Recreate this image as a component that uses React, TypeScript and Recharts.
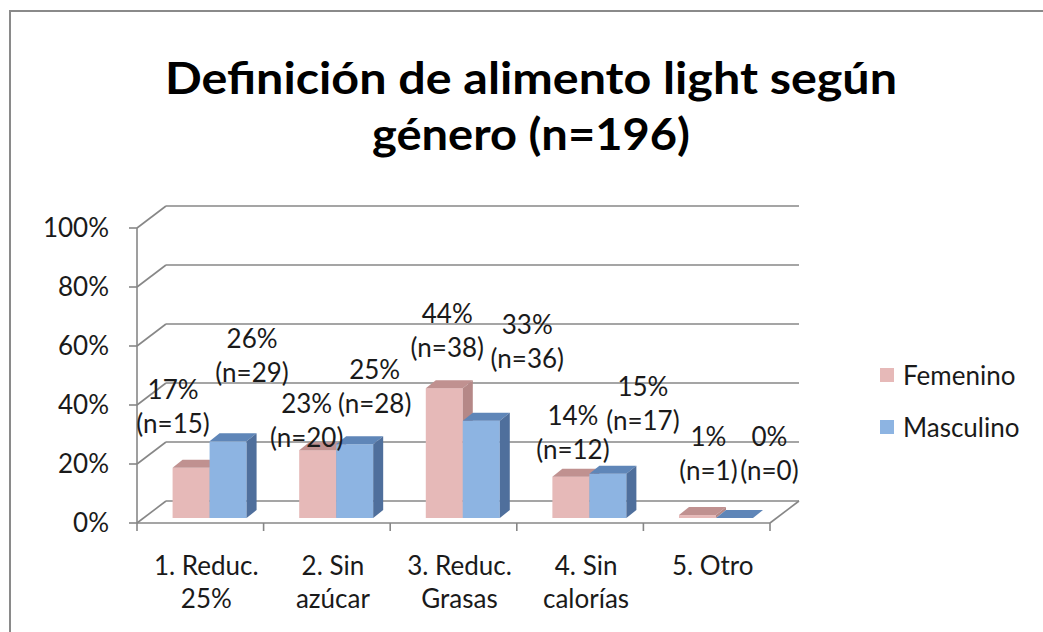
import React from 'react';
import {
  BarChart,
  Bar,
  XAxis,
  YAxis,
  CartesianGrid,
  Legend,
  LabelList,
  ReferenceLine,
} from 'recharts';

const categories = ['1. Reduc.\n25%', '2. Sin\nazúcar', '3. Reduc.\nGrasas', '4. Sin\ncalorías', '5. Otro'];
const femeninoPct = [17, 23, 44, 14, 1];
const femeninoN = [15, 20, 38, 12, 1];
const masculinoPct = [26, 25, 33, 15, 0];
const masculinoN = [29, 28, 36, 17, 0];
const yTicks = [0, 20, 40, 60, 80, 100];

const data = categories.map((name, i) => ({
  name,
  fem: femeninoPct[i],
  femN: femeninoN[i],
  mas: masculinoPct[i],
  masN: masculinoN[i],
}));

// label nudges (Excel placed these by hand), relative to the top centre of each bar
const femLabelNudge = [[-18, -45], [-11, -13], [3, -41], [2, -28], [11, -45]];
const masLabelNudge = [[24, -69], [20, -41], [46, -63], [35, -54], [35, -48]];

const FONT = 'Lato, "Open Sans", sans-serif';
const TEXT = '#1a1a1a';
const GRID = '#878787';

// fake 3D: back wall offset, plane the bars stand on, and bar depth
const WALL = { dx: 29, dy: -22 };
const PLANE = { dx: 9, dy: -5 };
const DEPTH = { dx: 10, dy: -8 };

const pink = { face: '#E6B9B8', top: '#C09190', side: '#B58887' };
const blue = { face: '#8DB4E2', top: '#5F86B8', side: '#4F6F9C' };

function Bar3D(props: any) {
  const { x, y, width, height, colors } = props;
  if (x == null || y == null) return null;
  const x0 = x + PLANE.dx;
  const y0 = y + PLANE.dy;
  const h = Math.max(0, height || 0);
  const w = width;
  return (
    <g>
      <rect x={x0} y={y0} width={w} height={h} fill={colors.face} />
      <polygon
        points={`${x0},${y0} ${x0 + w},${y0} ${x0 + w + DEPTH.dx},${y0 + DEPTH.dy} ${x0 + DEPTH.dx},${y0 + DEPTH.dy}`}
        fill={colors.top}
      />
      <polygon
        points={`${x0 + w},${y0} ${x0 + w + DEPTH.dx},${y0 + DEPTH.dy} ${x0 + w + DEPTH.dx},${y0 + h + DEPTH.dy} ${x0 + w},${y0 + h}`}
        fill={colors.side}
      />
    </g>
  );
}

function WallLine(props: any) {
  const { x1, x2, y1, key } = props;
  const bx = x1 + WALL.dx;
  const by = y1 + WALL.dy;
  return (
    <g key={key}>
      <line x1={x1} y1={y1} x2={bx} y2={by} stroke={GRID} strokeWidth={1.6} />
      <line x1={bx} y1={by} x2={x2 + WALL.dx} y2={by} stroke={GRID} strokeWidth={1.6} />
    </g>
  );
}

function FloorFront(props: any) {
  const { x1, x2, y1 } = props;
  return (
    <g>
      <line x1={x1} y1={y1} x2={x2} y2={y1} stroke={GRID} strokeWidth={1.6} />
      <line x1={x2} y1={y1} x2={x2 + WALL.dx} y2={y1 + WALL.dy} stroke={GRID} strokeWidth={1.6} />
    </g>
  );
}

function CategoryTick(props: any) {
  const { x, y, payload, index, visibleTicksCount, width } = props;
  const half = payload?.offset || (width && visibleTicksCount ? width / visibleTicksCount / 2 : 63.3);
  const lines = String(payload.value).split('\n');
  const isLast = index === (visibleTicksCount || 5) - 1;
  return (
    <g>
      <line x1={x - half} y1={y} x2={x - half} y2={y + 8} stroke={GRID} strokeWidth={1.6} />
      {isLast && <line x1={x + half} y1={y} x2={x + half} y2={y + 8} stroke={GRID} strokeWidth={1.6} />}
      {lines.map((t, i) => (
        <text
          key={i}
          x={x + 6}
          y={y + 42 + i * 33}
          textAnchor="middle"
          dominantBaseline="central"
          fill={TEXT}
          fontSize={26}
          fontFamily={FONT}
        >
          {t}
        </text>
      ))}
    </g>
  );
}

function makeLabel(nKey: 'femN' | 'masN', nudges: number[][]) {
  return (props: any) => {
    const { x, y, width, index, value } = props;
    const nd = nudges[index] || [0, -40];
    const cx = x + PLANE.dx + width / 2 + nd[0];
    const cy = y + PLANE.dy + nd[1];
    const n = data[index][nKey];
    return (
      <g>
        <text x={cx} y={cy - 34} textAnchor="middle" dominantBaseline="central" fill={TEXT} fontSize={26} fontFamily={FONT}>
          {`${value}%`}
        </text>
        <text x={cx} y={cy} textAnchor="middle" dominantBaseline="central" fill={TEXT} fontSize={26} fontFamily={FONT}>
          {`(n=${n})`}
        </text>
      </g>
    );
  };
}

function LegendBox(props: any) {
  const items = props.payload || [];
  return (
    <div style={{ fontFamily: FONT, fontSize: 26, color: TEXT }}>
      {items.map((it: any, i: number) => (
        <div key={i} style={{ display: 'flex', alignItems: 'center', height: 52 }}>
          <span style={{ width: 14, height: 14, background: it.color, marginRight: 9, display: 'inline-block' }} />
          <span>{it.value}</span>
        </div>
      ))}
    </div>
  );
}

export default function App() {
  return (
    <div style={{ position: 'absolute', left: 0, top: 0, width: 1043, height: 632, background: '#fff', overflow: 'hidden' }}>
      <div
        style={{
          position: 'absolute',
          left: 9,
          top: 10,
          width: 1100,
          height: 700,
          borderLeft: '2px solid #8a8a8a',
          borderTop: '2px solid #8a8a8a',
        }}
      />
      <svg width={1043} height={170} style={{ position: 'absolute', left: 0, top: 0 }}>
        <text x={531} y={94} textAnchor="middle" fontFamily={FONT} fontWeight={700} fontSize={44} fill="#000" textLength={732} lengthAdjust="spacingAndGlyphs">
          Definición de alimento light según
        </text>
        <text x={531} y={150} textAnchor="middle" fontFamily={FONT} fontWeight={700} fontSize={44} fill="#000" textLength={318} lengthAdjust="spacingAndGlyphs">
          género (n=196)
        </text>
      </svg>
      <div style={{ position: 'absolute', left: 0, top: 0 }}>
        <BarChart
          width={1043}
          height={632}
          data={data}
          margin={{ top: 228, right: 273, bottom: 79, left: 0 }}
          barCategoryGap="21%"
          barGap={0}
        >
          <CartesianGrid vertical={false} horizontal={(p: any) => <WallLine {...p} />} />
          <XAxis dataKey="name" height={30} axisLine={false} tickLine={false} tickSize={0} tickMargin={0} interval={0} tick={<CategoryTick />} />
          <YAxis
            domain={[0, 100]}
            ticks={yTicks}
            width={137}
            tickFormatter={(v) => `${v}%`}
            axisLine={{ stroke: GRID, strokeWidth: 1.6 }}
            tickLine={{ stroke: GRID, strokeWidth: 1.6 }}
            tickSize={8}
            tickMargin={20}
            tick={{ fill: TEXT, fontSize: 26, fontFamily: FONT }}
          />
          <ReferenceLine y={0} shape={(p: any) => <FloorFront {...p} />} />
          <Bar dataKey="fem" name="Femenino" fill={pink.face} isAnimationActive={false} shape={(p: any) => <Bar3D {...p} colors={pink} />}>
            <LabelList dataKey="fem" content={makeLabel('femN', femLabelNudge)} />
          </Bar>
          <Bar dataKey="mas" name="Masculino" fill={blue.face} isAnimationActive={false} shape={(p: any) => <Bar3D {...p} colors={blue} />}>
            <LabelList dataKey="mas" content={makeLabel('masN', masLabelNudge)} />
          </Bar>
          <Legend
            layout="vertical"
            align="center"
            verticalAlign="middle"
            content={<LegendBox />}
            wrapperStyle={{ left: 880, top: 349, width: 160, height: 104 }}
          />
        </BarChart>
      </div>
    </div>
  );
}
